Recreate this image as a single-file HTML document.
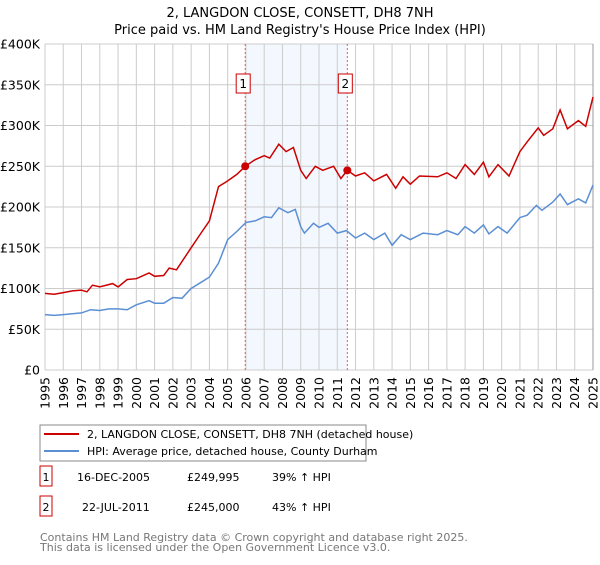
<!DOCTYPE html>
<html><head><meta charset="utf-8"><style>
body{margin:0;background:#fff;font-family:"Liberation Sans","DejaVu Sans",sans-serif;}
svg text{font-family:"DejaVu Sans","Liberation Sans",sans-serif;}
</style></head><body>
<svg width="600" height="560" xmlns="http://www.w3.org/2000/svg">
<g id="root"></g>
</svg>
<script>
const years=[1995,1996,1997,1998,1999,2000,2001,2002,2003,2004,2005,2006,2007,2008,2009,2010,2011,2012,2013,2014,2015,2016,2017,2018,2019,2020,2021,2022,2023,2024,2025];
const yTicks=[0,50000,100000,150000,200000,250000,300000,350000,400000];
const yTickLabels=["£0","£50K","£100K","£150K","£200K","£250K","£300K","£350K","£400K"];
const hpiT=[1995,1995.5,1996,1996.5,1997,1997.5,1998,1998.5,1999,1999.5,2000,2000.7,2001,2001.5,2002,2002.5,2003,2003.5,2004,2004.5,2005,2005.5,2006,2006.5,2007,2007.4,2007.8,2008.3,2008.7,2009,2009.2,2009.7,2010,2010.5,2011,2011.5,2012,2012.5,2013,2013.6,2014,2014.5,2015,2015.7,2016.5,2017,2017.6,2018,2018.5,2019,2019.3,2019.8,2020.3,2021,2021.4,2021.9,2022.2,2022.8,2023.2,2023.6,2024.2,2024.6,2025];
const hpiV=[68,67,68,69,70,74,73,75,75,74,80,85,82,82,89,88,100,107,114,131,160,170,181,183,188,187,199,193,197,176,168,180,175,180,168,171,162,168,160,168,153,166,160,168,166,171,166,176,168,178,167,176,168,187,190,202,196,206,216,203,210,205,227];
const priceT=[1995,1995.5,1996,1996.5,1997,1997.3,1997.6,1998,1998.7,1999,1999.5,2000,2000.7,2001,2001.5,2001.8,2002.2,2003,2003.6,2004,2004.5,2005,2005.5,2005.96,2006.5,2007,2007.3,2007.8,2008.2,2008.6,2009,2009.3,2009.8,2010.2,2010.8,2011.2,2011.55,2012,2012.5,2013,2013.7,2014.2,2014.6,2015,2015.5,2016.5,2017,2017.5,2018,2018.5,2019,2019.3,2019.8,2020.4,2021,2021.4,2022,2022.3,2022.8,2023.2,2023.6,2024.2,2024.6,2025];
const priceV=[94,93,95,97,98,96,104,102,106,102,111,112,119,115,116,125,123,150,170,183,225,232,240,250,258,263,260,277,268,273,245,235,250,245,250,235,245,238,242,232,240,223,237,228,238,237,242,235,252,240,255,237,252,238,268,280,297,288,296,319,296,306,299,335];
const saleT=[2005.96,2011.55];
const saleV=[249995,245000];
const saleLabels=["1","2"];

const L=45,R=593,T=44,B=370;
const xs=t=>L+(t-1995)/30*(R-L);
const ys=v=>B-v/400000*(B-T);
const NS="http://www.w3.org/2000/svg";
const root=document.getElementById('root');
function mk(tag,attrs,name,parent){const e=document.createElementNS(NS,tag);for(const k in attrs)e.setAttribute(k,attrs[k]);


(parent||root).appendChild(e);return e;}
function txt(x,y,s,name,extra){const e=mk('text',Object.assign({x:x,y:y,'font-size':13,fill:'#000'},extra||{}),name);e.textContent=s;return e;}

txt(300,17,"2, LANGDON CLOSE, CONSETT, DH8 7NH","title",{'text-anchor':'middle'});
txt(300,34,"Price paid vs. HM Land Registry's House Price Index (HPI)","subtitle",{'text-anchor':'middle'});
mk('rect',{x:xs(2006),y:T,width:xs(2011.55)-xs(2006),height:B-T,fill:'#eef3fd','fill-opacity':0.7},'ownership-shading');
years.forEach(y=>{mk('line',{x1:xs(y),x2:xs(y),y1:T,y2:B,stroke:'#cccccc','stroke-width':1},'x-grid-line');
const t=txt(0,0,String(y),'x-tick-label',{transform:`translate(${xs(y)+4.5},${B+7}) rotate(-90)`,'text-anchor':'end','font-size':12.5});});
yTicks.forEach((v,i)=>{mk('line',{x1:L,x2:R,y1:ys(v),y2:ys(v),stroke:'#cccccc','stroke-width':1},'y-grid-line');
txt(40,ys(v)+4.5,yTickLabels[i],'y-tick-label',{'text-anchor':'end','font-size':12.5});});
mk('line',{x1:R,x2:R,y1:T,y2:B,stroke:'#999','stroke-width':1},'right-edge');
saleT.forEach((t,i)=>{mk('line',{x1:xs(t),x2:xs(t),y1:T,y2:B,stroke:'#e06060','stroke-width':1,'stroke-dasharray':'2,2'},'sale-marker-line');
mk('rect',{x:xs(t)-9,y:74,width:14,height:19,fill:'#fff',stroke:'#cc0000'},'sale-label-box');
txt(xs(t)-2,88,saleLabels[i],'sale-label',{'text-anchor':'middle','font-size':12});});
const pts=(T_,V_)=>T_.map((t,i)=>xs(t).toFixed(1)+','+ys(V_[i]*1000).toFixed(1)).join(' ');
mk('polyline',{points:pts(hpiT,hpiV),fill:'none',stroke:'#5b8fd4','stroke-width':1.5},'hpi-line');
mk('polyline',{points:pts(priceT,priceV),fill:'none',stroke:'#cc0000','stroke-width':1.5},'price-line');
saleT.forEach((t,i)=>mk('circle',{cx:xs(t),cy:ys(saleV[i]),r:4,fill:'#cc0000'},'sale-point'));

mk('rect',{x:40,y:425,width:326,height:36,fill:'#fff',stroke:'#888'},'legend');
mk('line',{x1:44,x2:79,y1:434,y2:434,stroke:'#cc0000','stroke-width':2},'legend-price-swatch');
txt(87,438,"2, LANGDON CLOSE, CONSETT, DH8 7NH (detached house)","legend-price-label",{'font-size':11});
mk('line',{x1:44,x2:79,y1:451,y2:451,stroke:'#5b8fd4','stroke-width':2},'legend-hpi-swatch');
txt(87,455,"HPI: Average price, detached house, County Durham","legend-hpi-label",{'font-size':11});
const rows=[["1","16-DEC-2005","£249,995","39% ↑ HPI",483],["2","22-JUL-2011","£245,000","43% ↑ HPI",513]];
rows.forEach(r=>{mk('rect',{x:40,y:r[4]-17,width:12,height:20,fill:'#fff',stroke:'#cc0000'},'table-row-marker');
txt(46,r[4]-2,r[0],'table-row-number',{'text-anchor':'middle','font-size':11});
txt(r[0]=="1"?77:82,r[4]-2,r[1],'table-row-date',{'font-size':11});
txt(187,r[4]-2,r[2],'table-row-price',{'font-size':11});
txt(272,r[4]-2,r[3],'table-row-hpi',{'font-size':11});});
txt(40,541,"Contains HM Land Registry data © Crown copyright and database right 2025.","footer-line1",{'font-size':11,fill:'#777'});
txt(40,551,"This data is licensed under the Open Government Licence v3.0.","footer-line2",{'font-size':11,fill:'#777'});
</script>
</body></html>
